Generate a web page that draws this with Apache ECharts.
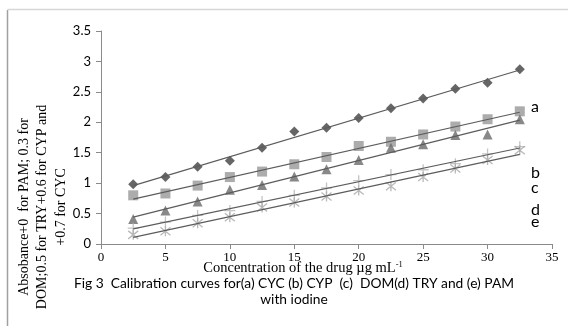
<!DOCTYPE html>
<html>
<head>
<meta charset="utf-8">
<script src="https://cdn.jsdelivr.net/npm/echarts@6/dist/echarts.min.js"></script>
<style>
html,body{margin:0;padding:0;background:#fff;}
#chart{width:568px;height:326px;}
</style>
</head>
<body>
<div id="chart"></div>
<script>
// Data
var concentrations = [2.5, 5, 7.5, 10, 12.5, 15, 17.5, 20, 22.5, 25, 27.5, 30, 32.5];
var seriesCYC = [0.98, 1.10, 1.27, 1.37, 1.58, 1.85, 1.91, 2.07, 2.23, 2.39, 2.55, 2.65, 2.87];
var seriesCYP = [0.80, 0.83, 0.96, 1.10, 1.19, 1.31, 1.43, 1.61, 1.68, 1.80, 1.93, 2.05, 2.18];
var seriesDOM = [0.41, 0.55, 0.70, 0.89, 0.97, 1.11, 1.23, 1.38, 1.58, 1.64, 1.79, 1.80, 2.05];
var seriesTRY = [0.26, 0.36, 0.47, 0.55, 0.70, 0.80, 0.92, 1.04, 1.14, 1.22, 1.32, 1.48, 1.60];
var seriesPAM = [0.15, 0.21, 0.34, 0.44, 0.60, 0.68, 0.78, 0.88, 0.95, 1.10, 1.24, 1.38, 1.54];
var xTicks = [0, 5, 10, 15, 20, 25, 30, 35];
var yTicks = [0, 0.5, 1, 1.5, 2, 2.5, 3, 3.5];
var curveLetters = ['a', 'b', 'c', 'd', 'e'];

function pairs(ys){ return concentrations.map(function(x,i){ return [x, ys[i]]; }); }
function fit(ys){
  var n = ys.length, sx=0, sy=0, sxx=0, sxy=0;
  for (var i=0;i<n;i++){ var x=concentrations[i]; sx+=x; sy+=ys[i]; sxx+=x*x; sxy+=x*ys[i]; }
  var b = (n*sxy - sx*sy)/(n*sxx - sx*sx), a = (sy - b*sx)/n;
  var x0 = concentrations[0], x1 = concentrations[n-1];
  return [[x0, a+b*x0],[x1, a+b*x1]];
}

var PLUS = 'path://M5,0L5,10M0,5L10,5';
var ASTER = 'path://M5,0L5,10M1,1L9,9M9,1L1,9';

var defs = [
  {name:'CYC', data:seriesCYC, symbol:'diamond', size:10, color:'#404040'},
  {name:'CYP', data:seriesCYP, symbol:'rect', size:10, color:'#979797'},
  {name:'DOM', data:seriesDOM, symbol:'triangle', size:10, color:'#6a6a6a'},
  {name:'TRY', data:seriesTRY, symbol:PLUS, size:11, color:'#b4b4b4', stroke:true},
  {name:'PAM', data:seriesPAM, symbol:ASTER, size:10, color:'#a8a8a8', stroke:true}
];

var series = [];
defs.forEach(function(d){
  series.push({
    type:'line', data: fit(d.data), symbol:'none', silent:true, z:3,
    lineStyle:{color:'#5c5c5c', width:1.2}
  });
});
defs.forEach(function(d){
  series.push({
    type:'scatter', name:d.name, data: pairs(d.data), symbol:d.symbol, symbolSize:d.size, z:2,
    itemStyle: d.stroke ? {color:'rgba(0,0,0,0)', borderColor:d.color, borderWidth:1.3}
                        : {color:d.color}
  });
});

var labelY = [107, 173, 188, 210, 222];
var serif14 = '14px "Liberation Serif"';
var graphics = [
  {type:'line', shape:{x1:7.5,y1:10,x2:7.5,y2:326}, style:{stroke:'#a0a0a0', lineWidth:1.5}},
  {type:'line', shape:{x1:7.5,y1:9.5,x2:568,y2:9.5}, style:{stroke:'#d6d6d6', lineWidth:1.5}},
  {type:'text', x:24, y:207, rotation:Math.PI/2, style:{text:'Absobance+0  for PAM; 0.3 for', font:serif14, fill:'#000', textAlign:'center', textVerticalAlign:'middle'}},
  {type:'text', x:42, y:207, rotation:Math.PI/2, style:{text:'DOM;0.5 for TRY+0.6 for CYP and', font:serif14, fill:'#000', textAlign:'center', textVerticalAlign:'middle'}},
  {type:'text', x:61, y:207, rotation:Math.PI/2, style:{text:'+0.7 for CYC', font:serif14, fill:'#000', textAlign:'center', textVerticalAlign:'middle'}},
  {type:'text', x:303, y:268, style:{
      text:'{m|Concentration of the drug µg mL}{s|-1}',
      rich:{m:{fontFamily:'Liberation Serif', fontSize:14.5, fill:'#000', color:'#000'},
            s:{fontFamily:'Liberation Serif', fontSize:8.5, fill:'#000', color:'#000', verticalAlign:'top', padding:[0,0,7,0]}},
      textAlign:'center', textVerticalAlign:'middle'}},
  {type:'text', x:294, y:284, style:{text:'Fig 3  Calibration curves for(a) CYC (b) CYP  (c)  DOM(d) TRY and (e) PAM', font:'13.8px Lato', fill:'#000', textAlign:'center', textVerticalAlign:'middle'}},
  {type:'text', x:294, y:300, style:{text:'with iodine', font:'13.8px Lato', fill:'#000', textAlign:'center', textVerticalAlign:'middle'}}
];
curveLetters.forEach(function(t,i){
  graphics.push({type:'text', x:531, y:labelY[i], style:{text:t, font:'16px Lato', fill:'#000', textAlign:'left', textVerticalAlign:'middle'}});
});

var chart = echarts.init(document.getElementById('chart'), null, {renderer:'canvas'});
chart.setOption({
  animation:false,
  backgroundColor:'#fff',
  grid:{left:101, right:16, top:31, bottom:82, containLabel:false},
  xAxis:{
    type:'value', min:xTicks[0], max:xTicks[xTicks.length-1], interval:5,
    axisLine:{show:true, onZero:false, lineStyle:{color:'#8a8a8a', width:1}},
    axisTick:{show:true, inside:false, length:5, lineStyle:{color:'#8a8a8a'}},
    splitLine:{show:false},
    axisLabel:{color:'#000', fontFamily:'Liberation Serif', fontSize:13, margin:7}
  },
  yAxis:{
    type:'value', min:yTicks[0], max:yTicks[yTicks.length-1], interval:0.5,
    axisLine:{show:true, lineStyle:{color:'#8a8a8a', width:1}},
    axisTick:{show:true, inside:false, length:5, lineStyle:{color:'#8a8a8a'}},
    splitLine:{show:false},
    axisLabel:{color:'#000', fontFamily:'Lato', fontSize:13, margin:10}
  },
  series:series,
  graphic:graphics
});
</script>
</body>
</html>
